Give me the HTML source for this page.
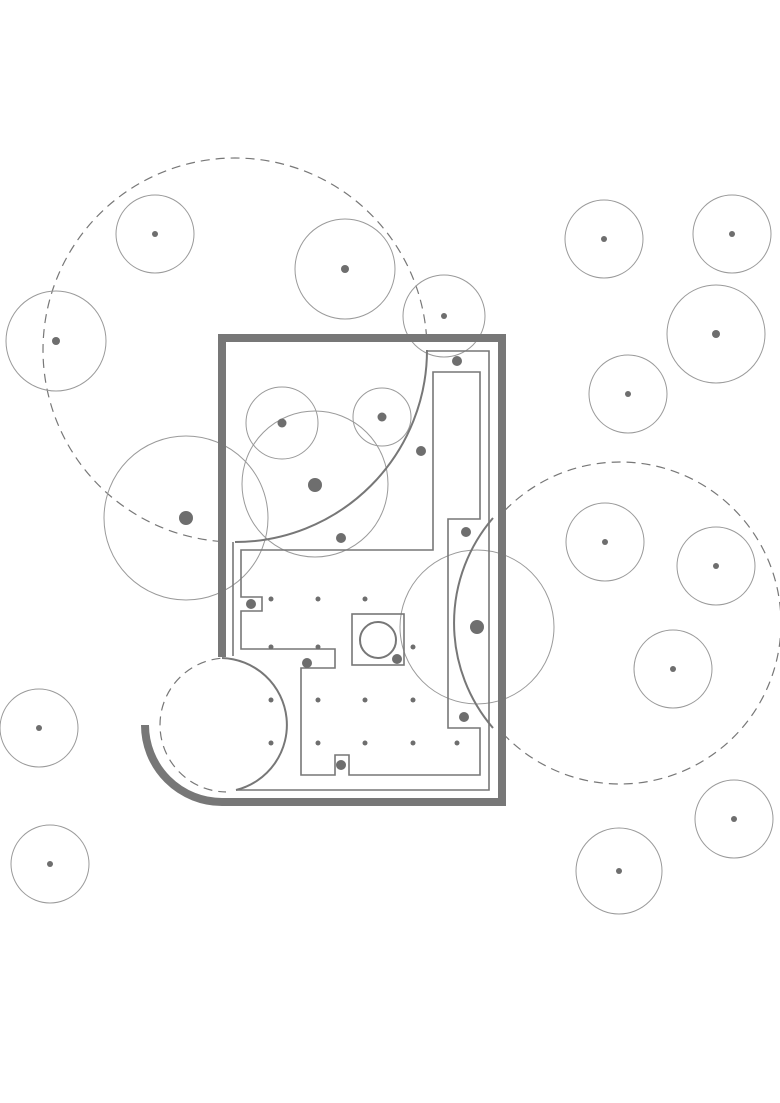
<!DOCTYPE html>
<html><head><meta charset="utf-8"><style>html,body{margin:0;padding:0;background:#fff}svg{display:block}</style></head>
<body>
<svg width="780" height="1103" viewBox="0 0 780 1103" xmlns="http://www.w3.org/2000/svg">
<g fill="none" stroke="#777" stroke-width="1.2" stroke-dasharray="9,6">
<circle cx="235" cy="350" r="192"/>
<circle cx="620" cy="623" r="161"/>
<circle cx="227" cy="725" r="67"/>
</g>
<rect x="226" y="342" width="272" height="456" fill="#fff"/>
<g fill="none" stroke="#9a9a9a" stroke-width="1">
<circle cx="155" cy="234" r="39"/>
<circle cx="345" cy="269" r="50"/>
<circle cx="56" cy="341" r="50"/>
<circle cx="444" cy="316" r="41"/>
<circle cx="604" cy="239" r="39"/>
<circle cx="732" cy="234" r="39"/>
<circle cx="716" cy="334" r="49"/>
<circle cx="628" cy="394" r="39"/>
<circle cx="186" cy="518" r="82"/>
<circle cx="282" cy="423" r="36"/>
<circle cx="382" cy="417" r="29"/>
<circle cx="315" cy="484" r="73"/>
<circle cx="605" cy="542" r="39"/>
<circle cx="716" cy="566" r="39"/>
<circle cx="477" cy="627" r="77"/>
<circle cx="673" cy="669" r="39"/>
<circle cx="39" cy="728" r="39"/>
<circle cx="50" cy="864" r="39"/>
<circle cx="734" cy="819" r="39"/>
<circle cx="619" cy="871" r="43"/>
</g>
<g fill="none" stroke="#777" stroke-width="2">
<path d="M427 350 A192 192 0 0 1 235 542"/>
<path d="M493 518 A161 161 0 0 0 493 728"/>
<path d="M222 658 A67 67 0 0 1 236 790"/>
</g>
<g fill="none" stroke="#777" stroke-width="1.6">
<path d="M427 351 H489 V790 H236"/>
<path d="M233 542 V656"/>
<path d="M433 372 H480 V519 H448 V728 H480 V775 H349 V755 H335 V775 H301 V668 H335 V649 H241 V611 H262 V597 H241 V550 H433 Z"/>
<rect x="352" y="614" width="52" height="51"/>
<circle cx="378" cy="640" r="18" stroke-width="2"/>
</g>
<path d="M222 657 V338 H502 V802 H222 A77 77 0 0 1 145 725" fill="none" stroke="#777" stroke-width="8"/>
<g fill="#6e6e6e">
<circle cx="155" cy="234" r="3"/><circle cx="345" cy="269" r="4"/><circle cx="56" cy="341" r="4"/>
<circle cx="444" cy="316" r="3"/><circle cx="604" cy="239" r="3"/><circle cx="732" cy="234" r="3"/>
<circle cx="716" cy="334" r="4"/><circle cx="628" cy="394" r="3"/><circle cx="605" cy="542" r="3"/>
<circle cx="716" cy="566" r="3"/><circle cx="673" cy="669" r="3"/><circle cx="39" cy="728" r="3"/>
<circle cx="50" cy="864" r="3"/><circle cx="734" cy="819" r="3"/><circle cx="619" cy="871" r="3"/>
<circle cx="186" cy="518" r="7"/><circle cx="315" cy="485" r="7"/><circle cx="477" cy="627" r="7"/>
<circle cx="457" cy="361" r="5"/><circle cx="421" cy="451" r="5"/><circle cx="341" cy="538" r="5"/>
<circle cx="466" cy="532" r="5"/><circle cx="464" cy="717" r="5"/><circle cx="251" cy="604" r="5"/>
<circle cx="307" cy="663" r="5"/><circle cx="397" cy="659" r="5"/><circle cx="341" cy="765" r="5"/>
<circle cx="282" cy="423" r="4.5"/><circle cx="382" cy="417" r="4.5"/>
<circle cx="271" cy="599" r="2.5"/><circle cx="318" cy="599" r="2.5"/><circle cx="365" cy="599" r="2.5"/>
<circle cx="271" cy="647" r="2.5"/><circle cx="318" cy="647" r="2.5"/><circle cx="413" cy="647" r="2.5"/>
<circle cx="271" cy="700" r="2.5"/><circle cx="318" cy="700" r="2.5"/><circle cx="365" cy="700" r="2.5"/><circle cx="413" cy="700" r="2.5"/>
<circle cx="271" cy="743" r="2.5"/><circle cx="318" cy="743" r="2.5"/><circle cx="365" cy="743" r="2.5"/><circle cx="413" cy="743" r="2.5"/><circle cx="457" cy="743" r="2.5"/>
</g>
</svg>
</body></html>
